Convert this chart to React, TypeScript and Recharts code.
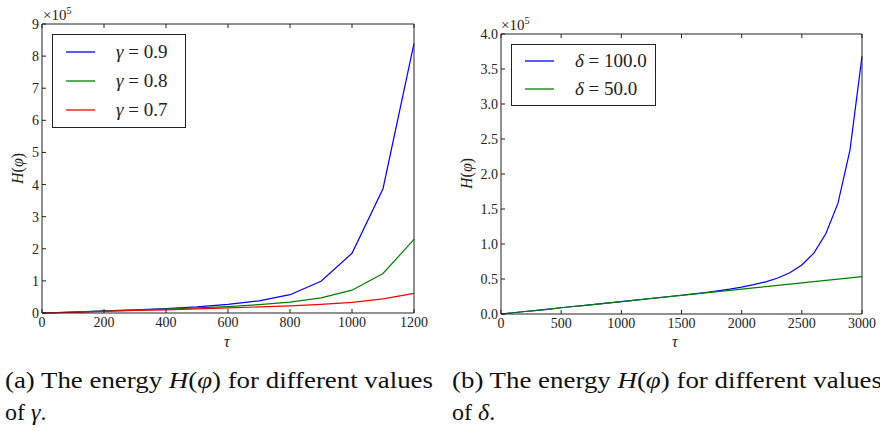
import { LineChart, Line, XAxis, YAxis } from 'recharts';

// left panel: tau vs H(phi) for several gamma
const tauA = [0, 100, 200, 300, 400, 500, 600, 700, 800, 900, 1000, 1100, 1200];
const gamma09 = [0, 3000, 7000, 10000, 14000, 19000, 27000, 38000, 57000, 99000, 186000, 387000, 840000];
const gamma08 = [0, 3000, 6000, 9000, 12000, 16000, 20000, 26000, 34000, 47000, 71000, 123000, 229000];
const gamma07 = [0, 2000, 5000, 8000, 10000, 13000, 16000, 19000, 22000, 27000, 33000, 44000, 61000];
const ticksXA = [0, 200, 400, 600, 800, 1000, 1200];
const ticksYA = [0, 100000, 200000, 300000, 400000, 500000, 600000, 700000, 800000, 900000];

// right panel: tau vs H(phi) for two delta
const tauB = [0, 100, 200, 300, 400, 500, 600, 700, 800, 900, 1000, 1100, 1200, 1300, 1400, 1500,
  1600, 1700, 1800, 1900, 2000, 2100, 2200, 2300, 2400, 2500, 2600, 2700, 2800, 2900, 3000];
const delta100 = [0, 1800, 3600, 5300, 7100, 8900, 10700, 12400, 14200, 16000, 17800, 19600, 21400,
  23200, 25000, 26800, 28700, 30700, 33000, 35500, 38500, 42000, 46000, 51500, 59000, 70000,
  87000, 115000, 158000, 234000, 368000];
const delta50 = [0, 1800, 3600, 5300, 7100, 8900, 10700, 12400, 14200, 16000, 17800, 19600, 21300,
  23100, 24900, 26700, 28400, 30200, 32000, 33800, 35500, 37300, 39100, 40900, 42600, 44400,
  46200, 48000, 49700, 51500, 53300];
const ticksXB = [0, 500, 1000, 1500, 2000, 2500, 3000];
const ticksYB = [0, 50000, 100000, 150000, 200000, 250000, 300000, 350000, 400000];

const seriesA = [
  { key: 'g9', label: '0.9', color: '#0000ff' },
  { key: 'g8', label: '0.8', color: '#008000' },
  { key: 'g7', label: '0.7', color: '#ff0000' },
];
const seriesB = [
  { key: 'd100', label: '100.0', color: '#0000ff' },
  { key: 'd50', label: '50.0', color: '#008000' },
];

const rowsA = tauA.map((t, i) => ({ tau: t, g9: gamma09[i], g8: gamma08[i], g7: gamma07[i] }));
const rowsB = tauB.map((t, i) => ({ tau: t, d100: delta100[i], d50: delta50[i] }));

const serif = '"Liberation Serif", "Times New Roman", serif';
const ink = '#222';
const tickFont = { fill: ink, fontSize: 14, fontFamily: serif };
const blank = () => '';

function Frame(props: {
  xTicks: number[]; yTicks: number[]; xMax: number; yMax: number;
  left: number; right: number; top: number; bottom: number; fmt: (v: number) => string;
}) {
  const { xTicks, yTicks, xMax, yMax, left, right, top, bottom, fmt } = props;
  return [
    <XAxis key="xb" xAxisId="b" dataKey="tau" type="number" domain={[0, xMax]} ticks={xTicks}
      interval={0} height={bottom} tickSize={-4} tickMargin={8} stroke={ink} tick={tickFont} />,
    <XAxis key="xt" xAxisId="t" orientation="top" dataKey="tau" type="number" domain={[0, xMax]}
      ticks={xTicks} interval={0} height={top} tickSize={-4} tickFormatter={blank} stroke={ink} />,
    <YAxis key="yl" yAxisId="l" type="number" domain={[0, yMax]} ticks={yTicks} interval={0}
      width={left} tickSize={-4} tickMargin={7} stroke={ink} tick={tickFont} tickFormatter={fmt} />,
    <YAxis key="yr" yAxisId="r" orientation="right" type="number" domain={[0, yMax]} ticks={yTicks}
      interval={0} width={right} tickSize={-4} tickFormatter={blank} stroke={ink} />,
  ];
}

function LegendBox({ items, sym, style, rowH }: {
  items: { key: string; label: string; color: string }[]; sym: string; style: any; rowH: number;
}) {
  return (
    <div style={{ position: 'absolute', border: `1px solid ${ink}`, background: '#fff', boxSizing: 'border-box', ...style }}>
      {items.map((s) => (
        <div key={s.key} style={{ display: 'flex', alignItems: 'center', height: rowH, fontFamily: serif, fontSize: 19, color: ink }}>
          <svg width={63} height={6} style={{ flex: 'none' }}>
            <line x1={13} x2={42} y1={3} y2={3} stroke={s.color} strokeWidth={1.3} />
          </svg>
          <span><i>{sym}</i> = {s.label}</span>
        </div>
      ))}
    </div>
  );
}

const abs = (l: number, t: number, extra: any = {}) => ({ position: 'absolute' as const, left: l, top: t, ...extra });
const rot = { fontFamily: serif, fontSize: 16, color: ink, transform: 'rotate(-90deg)', transformOrigin: 'left top', whiteSpace: 'nowrap' as const, lineHeight: '18px' };

export default function App() {
  return (
    <div style={{ position: 'absolute', left: 0, top: 0, width: 880, height: 431, background: '#fff', overflow: 'hidden' }}>
      <div style={abs(0, 0)}>
        <LineChart width={440} height={340} data={rowsA} margin={{ top: 0, right: 0, bottom: 0, left: 0 }}>
          {Frame({ xTicks: ticksXA, yTicks: ticksYA, xMax: 1200, yMax: 900000, left: 42, right: 26, top: 24, bottom: 27, fmt: (v) => String(v / 100000) })}
          {seriesA.map((s) => (
            <Line key={s.key} xAxisId="b" yAxisId="l" dataKey={s.key} stroke={s.color} strokeWidth={1.2} dot={false} isAnimationActive={false} />
          ))}
        </LineChart>
      </div>
      <div style={abs(440, 0)}>
        <LineChart width={440} height={340} data={rowsB} margin={{ top: 0, right: 0, bottom: 0, left: 0 }}>
          {Frame({ xTicks: ticksXB, yTicks: ticksYB, xMax: 3000, yMax: 400000, left: 61, right: 18, top: 34, bottom: 26, fmt: (v) => (v / 100000).toFixed(1) })}
          {seriesB.map((s) => (
            <Line key={s.key} xAxisId="b" yAxisId="l" dataKey={s.key} stroke={s.color} strokeWidth={1.2} dot={false} isAnimationActive={false} />
          ))}
        </LineChart>
      </div>

      <LegendBox items={seriesA} sym="γ" rowH={29} style={{ left: 52, top: 34, width: 134, height: 94, paddingTop: 2 }} />
      <LegendBox items={seriesB} sym="δ" rowH={28} style={{ left: 511, top: 44, width: 145, height: 62, paddingTop: 2 }} />

      <div style={abs(43, 5, { fontFamily: serif, fontSize: 15, color: ink })}>×10<sup style={{ fontSize: 10 }}>5</sup></div>
      <div style={abs(501, 15, { fontFamily: serif, fontSize: 15, color: ink })}>×10<sup style={{ fontSize: 10 }}>5</sup></div>

      <div style={abs(9, 184, rot)}><i>H</i>(<i>φ</i>)</div>
      <div style={abs(458, 189, rot)}><i>H</i>(<i>φ</i>)</div>
      <div style={abs(224, 333, { fontFamily: serif, fontSize: 16, color: ink })}><i>τ</i></div>
      <div style={abs(672, 333, { fontFamily: serif, fontSize: 16, color: ink })}><i>τ</i></div>

      <svg width={880} height={80} style={abs(0, 351)} fontFamily={serif} fontSize={24} fill="#111">
        <text x={5} y={37} textLength={428} lengthAdjust="spacingAndGlyphs">
          (a) The energy <tspan fontStyle="italic">H</tspan>(<tspan fontStyle="italic">φ</tspan>) for different values
        </text>
        <text x={5} y={69}>of <tspan fontStyle="italic">γ</tspan>.</text>
        <text x={452} y={37} textLength={430} lengthAdjust="spacingAndGlyphs">
          (b) The energy <tspan fontStyle="italic">H</tspan>(<tspan fontStyle="italic">φ</tspan>) for different values
        </text>
        <text x={452} y={69}>of <tspan fontStyle="italic">δ</tspan>.</text>
      </svg>
    </div>
  );
}
